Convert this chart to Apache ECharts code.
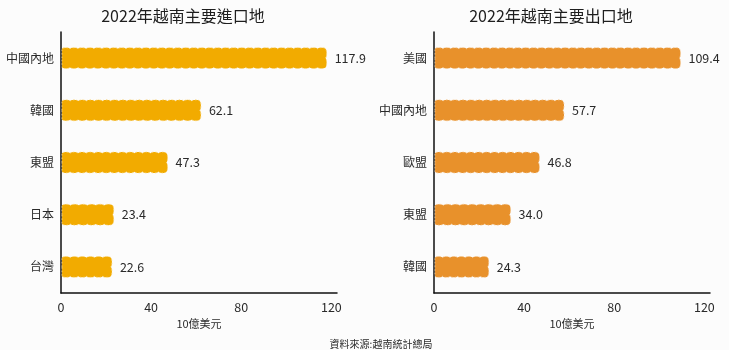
<!DOCTYPE html>
<html>
<head>
<meta charset="utf-8">
<script src="https://cdn.jsdelivr.net/npm/echarts@6/dist/echarts.min.js"></script>
<style>
  html, body { margin: 0; padding: 0; background: #fcfcfc; }
  #chart { width: 729px; height: 350px; }
</style>
</head>
<body>
<div id="chart"></div>
<script>
// Vietnam's main import sources and export destinations, 2022 (USD billion)
const importTitle = '2022年越南主要進口地';
const importCategories = ['中國內地', '韓國', '東盟', '日本', '台灣'];
const importValues = [117.9, 62.1, 47.3, 23.4, 22.6];

const exportTitle = '2022年越南主要出口地';
const exportCategories = ['美國', '中國內地', '歐盟', '東盟', '韓國'];
const exportValues = [109.4, 57.7, 46.8, 34.0, 24.3];

const xTicks = [0, 40, 80, 120];
const unitLabel = '10億美元';
const sourceNote = '資料來源:越南統計總局';

const FONT = '"Noto Sans CJK TC", "Noto Sans", sans-serif';

// Push points of a row of small bumps from (ax, ay) to (bx, by); the bumps
// bulge along (nx, ny) by amp pixels.
function bumps(pts, ax, ay, bx, by, nx, ny, amp, period) {
  const len = Math.hypot(bx - ax, by - ay);
  const n = Math.max(1, Math.round(len / period));
  const samples = 8;
  for (let i = 0; i < n; i++) {
    for (let s = 0; s < samples; s++) {
      const t = (i + s / samples) / n;
      const u = s / samples;
      const h = amp * Math.sqrt(Math.sin(Math.PI * u));
      pts.push([ax + (bx - ax) * t + nx * h, ay + (by - ay) * t + ny * h]);
    }
  }
  pts.push([bx, by]);
}

// Bar with scalloped top, bottom and end edges and a faint dotted rim
function scallopBar(color, rim) {
  return function (params, api) {
    const val = api.value(0);
    const cat = api.value(1);
    const end = api.coord([val, cat]);
    const start = api.coord([0, cat]);
    const band = api.size([0, 1])[1];
    const hh = band * 0.2;
    const amp = 1.1;
    const period = 8;
    const x0 = start[0] + 1;
    const xr = end[0] - amp;
    const yc = end[1];
    const yt = yc - hh + amp;
    const yb = yc + hh - amp;

    const pts = [[x0, yc]];
    bumps(pts, x0, yt, xr, yt, 0, -1, amp, period);
    bumps(pts, xr, yt, xr, yb, 1, 0, amp, period);
    bumps(pts, xr, yb, x0, yb, 0, 1, amp, period);

    return {
      type: 'group',
      children: [
        {
          type: 'polygon',
          shape: { points: pts },
          style: { fill: color, stroke: rim, lineWidth: 0.8, lineDash: [1.5, 2] }
        },
        {
          type: 'text',
          x: end[0] + 8,
          y: yc,
          style: {
            text: val.toFixed(1),
            fill: '#2a2a2a',
            fontSize: 12.5,
            fontFamily: FONT,
            verticalAlign: 'middle',
            align: 'left'
          }
        }
      ]
    };
  };
}

function xAxisCfg(gridIndex) {
  return {
    type: 'value',
    gridIndex: gridIndex,
    min: xTicks[0],
    max: 122.5,
    interval: xTicks[1] - xTicks[0],
    name: unitLabel,
    nameLocation: 'middle',
    nameGap: 24,
    nameTextStyle: { fontSize: 11, color: '#2a2a2a', fontFamily: FONT },
    axisLine: { show: true, lineStyle: { color: '#111', width: 1.5 } },
    axisTick: { show: false },
    splitLine: { show: false },
    axisLabel: {
      margin: 8,
      fontSize: 12.5,
      color: '#2a2a2a',
      fontFamily: FONT,
      formatter: function (v) { return xTicks.indexOf(v) >= 0 ? String(v) : ''; }
    }
  };
}

function yAxisCfg(gridIndex, cats) {
  return {
    type: 'category',
    gridIndex: gridIndex,
    data: cats,
    inverse: true,
    axisLine: { show: true, lineStyle: { color: '#111', width: 1.5 } },
    axisTick: { show: false },
    axisLabel: { margin: 7, fontSize: 12, color: '#2a2a2a', fontFamily: FONT }
  };
}

const chart = echarts.init(document.getElementById('chart'), null, { renderer: 'canvas' });
chart.setOption({
  backgroundColor: '#fcfcfc',
  animation: false,
  title: [
    { text: importTitle, left: 178, top: 3, textAlign: 'center',
      textStyle: { fontSize: 16, fontWeight: 'normal', color: '#1e1e1e', fontFamily: FONT } },
    { text: exportTitle, left: 546, top: 3, textAlign: 'center',
      textStyle: { fontSize: 16, fontWeight: 'normal', color: '#1e1e1e', fontFamily: FONT } },
    { text: sourceNote, left: 376, top: 334, textAlign: 'center',
      textStyle: { fontSize: 10, fontWeight: 'normal', color: '#2a2a2a', fontFamily: FONT } }
  ],
  grid: [
    { left: 61, top: 32, width: 276, height: 261 },
    { left: 434, top: 32, width: 276, height: 261 }
  ],
  xAxis: [xAxisCfg(0), xAxisCfg(1)],
  yAxis: [yAxisCfg(0, importCategories), yAxisCfg(1, exportCategories)],
  series: [
    {
      type: 'custom',
      xAxisIndex: 0,
      yAxisIndex: 0,
      encode: { x: 0, y: 1 },
      renderItem: scallopBar('#f2ab00', '#f9d98a'),
      data: importValues.map((v, i) => [v, i])
    },
    {
      type: 'custom',
      xAxisIndex: 1,
      yAxisIndex: 1,
      encode: { x: 0, y: 1 },
      renderItem: scallopBar('#e8912b', '#f5c995'),
      data: exportValues.map((v, i) => [v, i])
    }
  ]
});
</script>
</body>
</html>
